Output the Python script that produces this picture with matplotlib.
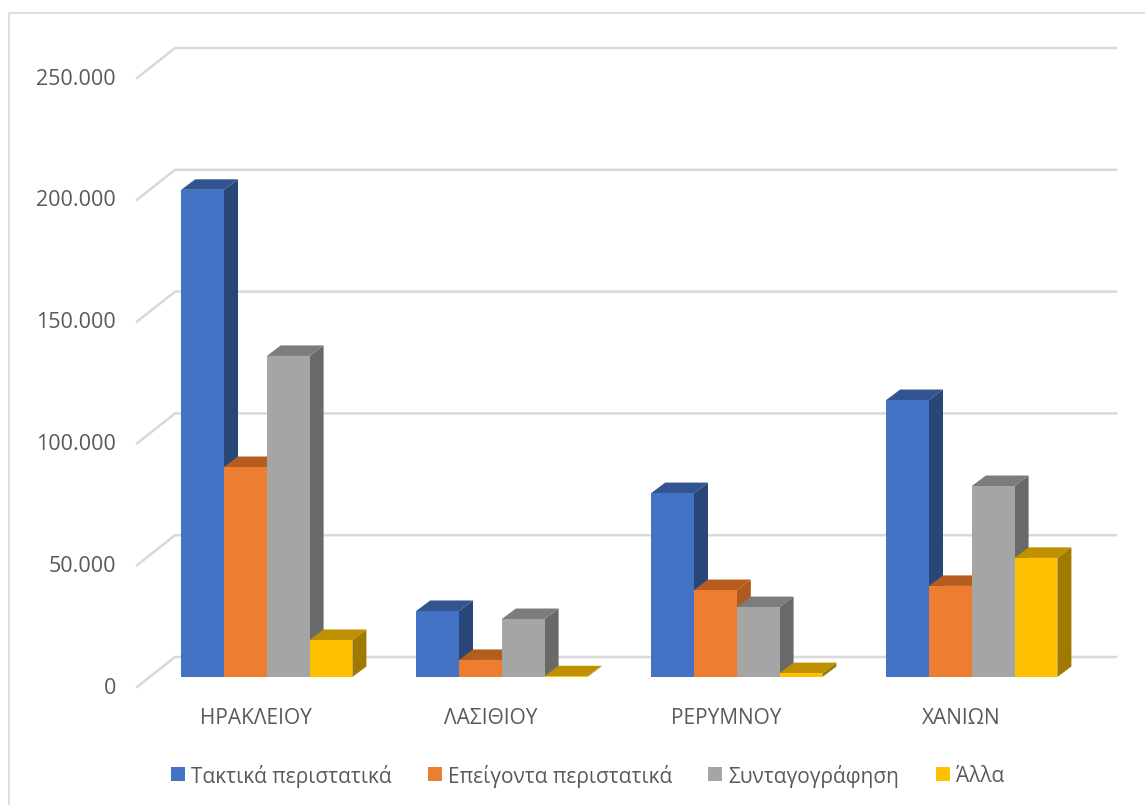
import matplotlib
matplotlib.use("Agg")
import matplotlib.pyplot as plt

plt.rcParams["font.family"] = ["Open Sans", "DejaVu Sans"]

regions = ["ΗΡΑΚΛΕΙΟΥ", "ΛΑΣΙΘΙΟΥ", "ΡΕΡΥΜΝΟΥ", "ΧΑΝΙΩΝ"]
series_names = ["Τακτικά περιστατικά", "Επείγοντα περιστατικά", "Συνταγογράφηση", "Άλλα"]
regular = [200000, 27100, 75500, 113700]
urgent = [86200, 7000, 35700, 37400]
prescriptions = [131800, 23800, 28700, 78400]
other = [15200, 300, 1600, 48900]
yticks = [0, 50000, 100000, 150000, 200000, 250000]
ytick_labels = ["0", "50.000", "100.000", "150.000", "200.000", "250.000"]

front_colors = ["#4472C4", "#ED7D31", "#A5A5A5", "#FFC000"]
top_colors = ["#325592", "#B55D1F", "#7C7C7C", "#BF9000"]
side_colors = ["#294679", "#B05A1D", "#696969", "#A07A00"]
text_color = "#595959"
grid_color = "#D9D9D9"

W, H = 1145, 805
group_px = 235.0   # distance between groups
bar_px = 42.8
center_px = 266.8  # centre of the first group
base_px = 677.0    # bar baseline
val_px = 609.0 / 250000  # pixels per unit of value

fig = plt.figure(figsize=(W / 100, H / 100), dpi=100)
ax = fig.add_axes([0, 0, 1, 1])
ax.set_xlim(-center_px / group_px, (W - center_px) / group_px)
ax.set_ylim((base_px - H) / val_px, base_px / val_px)
ax.axis("off")


def to_x(px):
    return (px - center_px) / group_px


def to_y(px):
    return (base_px - px) / val_px


bar_w = bar_px / group_px
depth_x = 14.0 / group_px
depth_y = 10.5 / val_px

# wall and floor lines
back_y = 20 / val_px
front_y = -10 / val_px
for v in yticks:
    ax.plot(
        [to_x(137), to_x(175), to_x(1116)],
        [v + front_y, v + back_y, v + back_y],
        color=grid_color,
        lw=1.8,
        solid_joinstyle="miter",
        zorder=1,
    )

# outer frame, left and top edges only
ax.plot(
    [to_x(8.5), to_x(8.5), to_x(W)],
    [to_y(H), to_y(12.5), to_y(12.5)],
    color=grid_color,
    lw=1.2,
    zorder=1,
)

series = [regular, urgent, prescriptions, other]
for i in range(len(regions)):
    for j, values in enumerate(series):
        x0 = i + (j - 2) * bar_w
        x1 = x0 + bar_w
        v = values[i]
        z = 2 + i + j * 0.1
        ax.fill(
            [x1, x1 + depth_x, x1 + depth_x, x1],
            [0, depth_y, v + depth_y, v],
            color=side_colors[j],
            lw=0,
            zorder=z,
        )
        ax.fill(
            [x0, x1, x1 + depth_x, x0 + depth_x],
            [v, v, v + depth_y, v + depth_y],
            color=top_colors[j],
            lw=0,
            zorder=z,
        )
        ax.bar(x0, v, bar_w, align="edge", color=front_colors[j], lw=0, zorder=z)

for v, label in zip(yticks, ytick_labels):
    ax.text(
        to_x(116), v + front_y + 1.5 / val_px, label,
        ha="right", va="center_baseline", fontsize=15.5, color=text_color,
    )

for i, name in enumerate(regions):
    ax.text(
        i - 11 / group_px, to_y(716), name,
        ha="center", va="center_baseline", fontsize=15, color=text_color,
    )

# legend laid out by hand along the bottom edge
legend_px = [171, 428, 708, 936]
for px, name, color in zip(legend_px, series_names, front_colors):
    ax.fill(
        [to_x(px), to_x(px + 14), to_x(px + 14), to_x(px)],
        [to_y(781), to_y(781), to_y(767), to_y(767)],
        color=color,
        lw=0,
    )
    ax.text(
        to_x(px + 20), to_y(773.5), name,
        ha="left", va="center_baseline", fontsize=15, color=text_color,
    )

fig.savefig("out.png", dpi=100)
